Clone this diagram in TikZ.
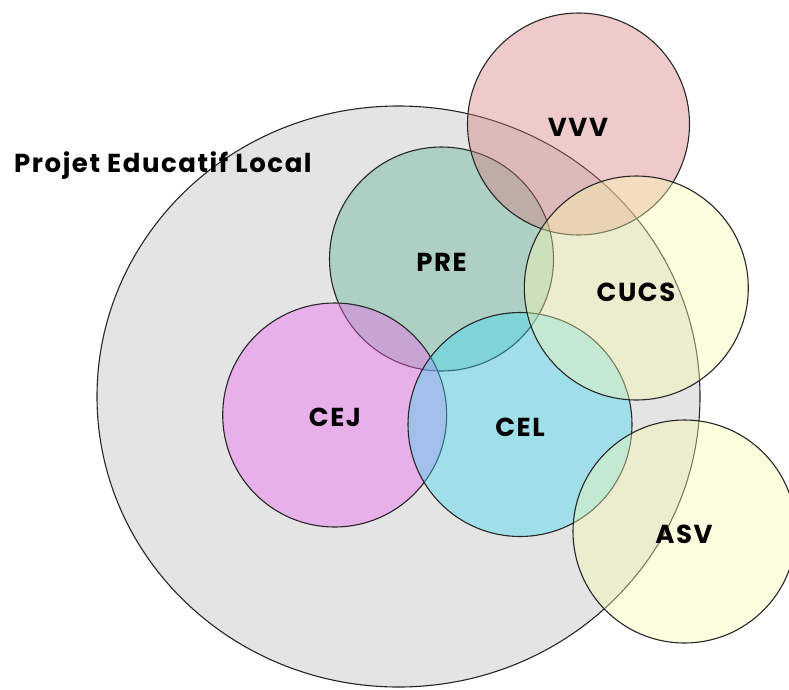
\documentclass[tikz,border=0pt]{standalone}
\usepackage{fontspec}
\setmainfont{Poppins}
\newfontfamily\lblfont{Poppins}[LetterSpace=6]
\definecolor{pelgray}{HTML}{E4E4E4}
\definecolor{cvvv}{RGB}{212,122,122}
\definecolor{cpre}{RGB}{93,178,148}
\definecolor{ccej}{RGB}{240,98,240}
\definecolor{ccel}{RGB}{60,216,245}
\definecolor{cyel}{RGB}{250,250,176}
\begin{document}
\begin{tikzpicture}[x=1pt,y=-1pt,
  ring/.style={draw=black!85, line width=1.1pt, fill opacity=0.4},
  lbl/.style={font=\lblfont\fontsize{26}{30}\selectfont\bfseries, text=black, inner sep=0pt}]
\useasboundingbox (0,0) rectangle (789,689);
\begin{scope}
  \clip (0,0) rectangle (789,689);
  % outer territory
  \draw[draw=black!85, line width=1.1pt, fill=pelgray]
    (398.5,396.5) ellipse [x radius=301.5, y radius=290.5];
  % overlapping schemes
  \draw[ring, fill=cpre] (441.5,259) circle [radius=112];
  \draw[ring, fill=cvvv] (578.5,124) circle [radius=111];
  \draw[ring, fill=ccej] (334.7,415) circle [radius=112];
  \draw[ring, fill=ccel] (520,424.5) circle [radius=112];
  \draw[ring, fill=cyel] (636.3,288) circle [radius=112];
  \draw[ring, fill=cyel] (684.5,531.5) circle [radius=111.5];
\end{scope}
\node[lbl, anchor=base west] (pel) at (14,172) {Projet Educatif Local};
\node[lbl] (pre) at (441.5,262) {PRE};
\node[lbl] (vvv) at (578,127) {VVV};
\node[lbl] (cucs) at (636,292) {CUCS};
\node[lbl] (cej) at (335,417.5) {CEJ};
\node[lbl] (cel) at (520,427.5) {CEL};
\node[lbl] (asv) at (684,534.5) {ASV};
\end{tikzpicture}
\end{document}
